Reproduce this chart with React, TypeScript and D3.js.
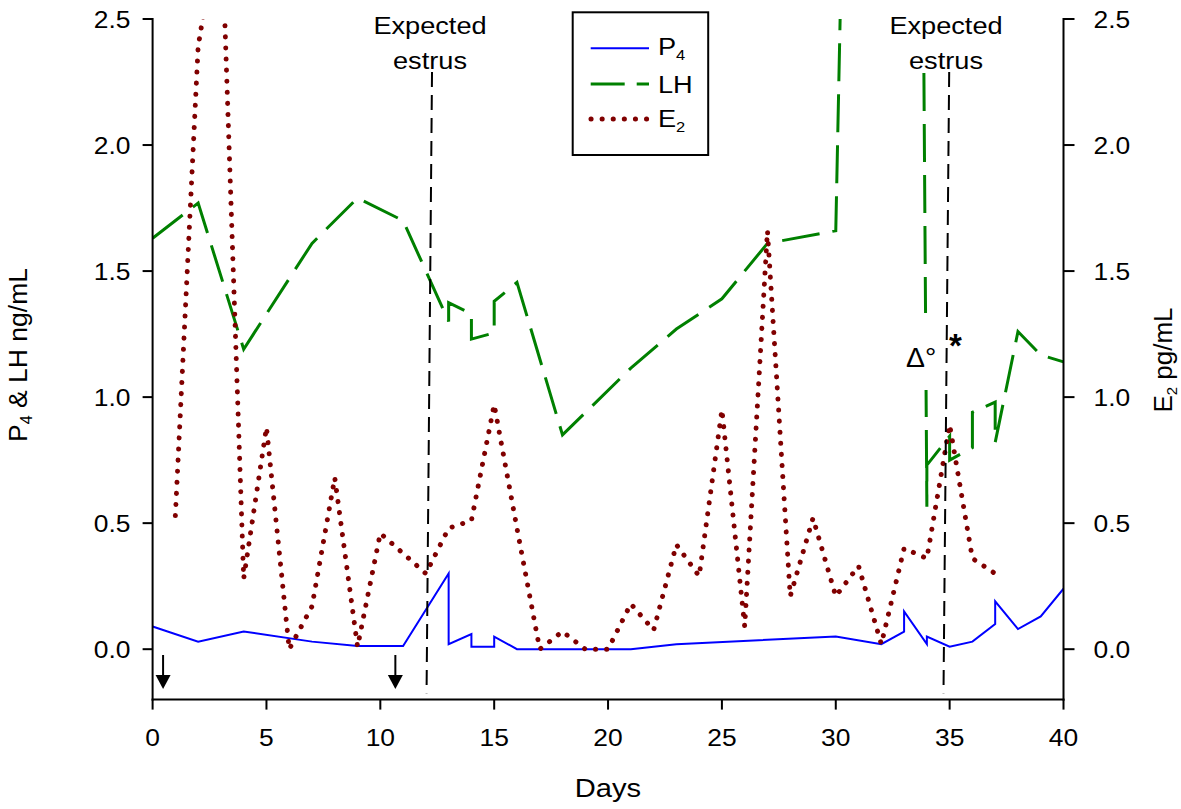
import React from "react";
import * as d3 from "d3";

// ---------- data ----------
const X_TICKS = [0, 5, 10, 15, 20, 25, 30, 35, 40];
const Y_TICKS = [0, 0.5, 1, 1.5, 2, 2.5];
const Y_TICK_LABELS = ["0.0", "0.5", "1.0", "1.5", "2.0", "2.5"];

const P4_DAY = [0, 2, 4, 7, 9, 11, 13, 13, 14, 14, 15, 15, 16, 21, 23, 30, 32, 33, 33, 34, 34, 35, 36, 37, 37, 38, 39, 40];
const P4_VAL = [0.09, 0.03, 0.07, 0.03, 0.013, 0.013, 0.30, 0.02, 0.06, 0.01, 0.01, 0.05, 0.0, 0.0, 0.02, 0.05, 0.02, 0.07, 0.15, 0.02, 0.05, 0.01, 0.03, 0.10, 0.19, 0.08, 0.13, 0.24];

const LH_DAY = [0, 2, 4, 7, 9, 11, 13, 13, 14, 14, 15, 15, 16, 18, 21, 23, 25, 27, 30, 31, 33, 34, 34, 35, 35, 36, 36, 37, 37, 38, 39, 40];
const LH_VAL = [1.63, 1.77, 1.19, 1.61, 1.79, 1.70, 1.30, 1.375, 1.33, 1.23, 1.255, 1.38, 1.455, 0.85, 1.115, 1.27, 1.39, 1.61, 1.66, 6.06, 13.8, 0.565, 0.73, 0.845, 0.75, 0.80, 0.94, 0.98, 0.82, 1.26, 1.167, 1.14];

const E2_DAY = [1, 2, 3, 4, 5, 6, 7, 8, 9, 10, 11, 12, 13, 14, 15, 16, 17, 18, 19, 20, 21, 22, 23, 24, 25, 26, 27, 28, 29, 30, 31, 32, 33, 34, 35, 36, 37];
const E2_VAL = [0.53, 2.39, 2.95, 0.28, 0.88, 0.0, 0.17, 0.68, 0.01, 0.46, 0.38, 0.30, 0.48, 0.51, 0.97, 0.48, 0.0, 0.07, 0.0, 0.0, 0.18, 0.075, 0.415, 0.29, 0.95, 0.09, 1.66, 0.21, 0.52, 0.21, 0.33, 0.02, 0.40, 0.36, 0.89, 0.36, 0.30];

// expected-estrus reference lines (day at top / bottom)
const ESTRUS_TOP_DAY = [12.27, 34.98];
const ESTRUS_BOTTOM_DAY = [12.03, 34.73];
const ESTRUS_TOP_VAL = 2.29;
const ESTRUS_BOTTOM_VAL = -0.175;
const ARROW_DAYS = [0.46, 10.66];

// ---------- layout ----------
const W = 1181;
const H = 809;
const FONT = "'Liberation Sans', Arial, Helvetica, sans-serif";
const SX = 1.1;

const x = d3.scaleLinear().domain([0, 40]).range([152.6, 1063.5]);
const y = d3.scaleLinear().domain([-0.2, 2.5]).range([699.6, 19]);

type Pt = [number, number];
const zip = (a: number[], b: number[]): Pt[] => a.map((d, i) => [d, b[i]]);
const line = d3
  .line<Pt>()
  .x((d) => x(d[0]))
  .y((d) => y(d[1]));

function T({ x: tx, y: ty, size, anchor = "start", sx = SX, weight = "normal", children }: any) {
  return (
    <text
      transform={`translate(${tx},${ty}) scale(${sx},1)`}
      fontSize={size}
      textAnchor={anchor}
      fontWeight={weight}
      fontFamily={FONT}
      fill="#000"
    >
      {children}
    </text>
  );
}

export default function App() {
  const [x0, x1] = x.range();
  const yBot = y(-0.2);
  const yTop = y(2.5);
  return (
    <svg
      width={W}
      height={H}
      viewBox={`0 0 ${W} ${H}`}
      style={{ position: "absolute", left: 0, top: 0, background: "#fff" }}
    >
      <defs>
        <clipPath id="plot">
          <rect x={x0} y={yTop} width={x1 - x0} height={yBot - yTop} />
        </clipPath>
      </defs>
      <rect x={0} y={0} width={W} height={H} fill="#fff" />

      {/* data */}
      <g clipPath="url(#plot)" fill="none">
        <path d={line(zip(P4_DAY, P4_VAL)) || ""} stroke="#0000ff" strokeWidth={2} strokeLinejoin="miter" />
        <path d={line(zip(LH_DAY, LH_VAL)) || ""} stroke="#008000" strokeWidth={3} strokeDasharray="38,13" />
        <path
          d={line(zip(E2_DAY, E2_VAL)) || ""}
          stroke="#800000"
          strokeWidth={5}
          strokeLinecap="round"
          strokeDasharray="0.1,11"
        />
      </g>

      {/* expected estrus lines */}
      {ESTRUS_TOP_DAY.map((d, i) => (
        <line
          key={"es" + i}
          x1={x(d)}
          y1={y(ESTRUS_TOP_VAL)}
          x2={x(ESTRUS_BOTTOM_DAY[i])}
          y2={y(ESTRUS_BOTTOM_VAL)}
          stroke="#000"
          strokeWidth={2}
          strokeDasharray="15,8"
        />
      ))}

      {/* label backgrounds */}
      {ESTRUS_TOP_DAY.map((d, i) => (
        <rect key={"lb" + i} x={x(d) - 57} y={0} width={114} height={y(ESTRUS_TOP_VAL) - 1} fill="#fff" />
      ))}
      <T x={430} y={34} size={24.7} anchor="middle">Expected</T>
      <T x={430} y={69} size={24.7} anchor="middle">estrus</T>
      <T x={946} y={34} size={24.7} anchor="middle">Expected</T>
      <T x={946} y={69} size={24.7} anchor="middle">estrus</T>

      {/* delta / asterisk annotations */}
      <rect x={903} y={313} width={35} height={77} fill="#fff" />
      <T x={906} y={367} size={27} sx={1.05}>Δ°</T>
      <T x={955.5} y={357} size={33} anchor="middle" weight="bold" sx={1}>*</T>

      {/* arrows */}
      {ARROW_DAYS.map((d, i) => {
        const ax = x(d);
        const ys = y(-0.023);
        const yh = y(-0.102);
        const ye = y(-0.158);
        return (
          <g key={"ar" + i}>
            <line x1={ax} y1={ys} x2={ax} y2={yh + 1} stroke="#000" strokeWidth={2} />
            <path d={`M${ax - 7.5},${yh} L${ax + 7.5},${yh} L${ax},${ye} Z`} fill="#000" />
          </g>
        );
      })}

      {/* axes */}
      <g stroke="#000" strokeWidth={2} fill="none">
        <line x1={x0} y1={yTop - 1} x2={x0} y2={yBot + 1} />
        <line x1={x1} y1={yTop - 1} x2={x1} y2={yBot + 1} />
        <line x1={x0 - 1} y1={yBot} x2={x1 + 1} y2={yBot} />
        {Y_TICKS.map((t) => (
          <line key={"lt" + t} x1={x0 - 10} y1={y(t)} x2={x0} y2={y(t)} />
        ))}
        {Y_TICKS.map((t) => (
          <line key={"rt" + t} x1={x1} y1={y(t)} x2={x1 + 11} y2={y(t)} />
        ))}
        {X_TICKS.map((t) => (
          <line key={"bt" + t} x1={x(t)} y1={yBot} x2={x(t)} y2={yBot + 10} />
        ))}
      </g>

      {Y_TICKS.map((t, i) => (
        <T key={"ll" + t} x={130.5} y={y(t) + 9} size={24} anchor="end">
          {Y_TICK_LABELS[i]}
        </T>
      ))}
      {Y_TICKS.map((t, i) => (
        <T key={"rl" + t} x={1093.5} y={y(t) + 9} size={24}>
          {Y_TICK_LABELS[i]}
        </T>
      ))}
      {X_TICKS.map((t) => (
        <T key={"xl" + t} x={x(t)} y={746} size={24} anchor="middle">
          {String(t)}
        </T>
      ))}

      {/* axis titles */}
      <T x={608} y={797} size={26.5} anchor="middle">Days</T>
      <text
        transform="translate(27,355) rotate(-90)"
        fontSize={26.5}
        textAnchor="middle"
        fontFamily={FONT}
        fill="#000"
      >
        P<tspan dy={5} fontSize={16}>4</tspan>
        <tspan dy={-5}> &amp; LH ng/mL</tspan>
      </text>
      <text
        transform="translate(1172,360) rotate(-90)"
        fontSize={26}
        textAnchor="middle"
        fontFamily={FONT}
        fill="#000"
      >
        E<tspan dy={5} fontSize={15}>2</tspan>
        <tspan dy={-5}> pg/mL</tspan>
      </text>

      {/* legend */}
      <rect x={572.7} y={12.3} width={135.5} height={142.7} fill="#fff" stroke="#000" strokeWidth={2} />
      <line x1={590.7} y1={48.3} x2={649} y2={48.3} stroke="#0000ff" strokeWidth={2} />
      <line x1={590.7} y1={84} x2={649} y2={84} stroke="#008000" strokeWidth={3} strokeDasharray="34,12" />
      <line
        x1={591}
        y1={119}
        x2={649}
        y2={119}
        stroke="#800000"
        strokeWidth={5}
        strokeLinecap="round"
        strokeDasharray="0.1,11"
      />
      <T x={658} y={55} size={24.7}>
        P<tspan dy={5} fontSize={15}>4</tspan>
      </T>
      <T x={658} y={92.7} size={24.7}>LH</T>
      <T x={658} y={127.3} size={24.7}>
        E<tspan dy={4.5} fontSize={15}>2</tspan>
      </T>
    </svg>
  );
}
